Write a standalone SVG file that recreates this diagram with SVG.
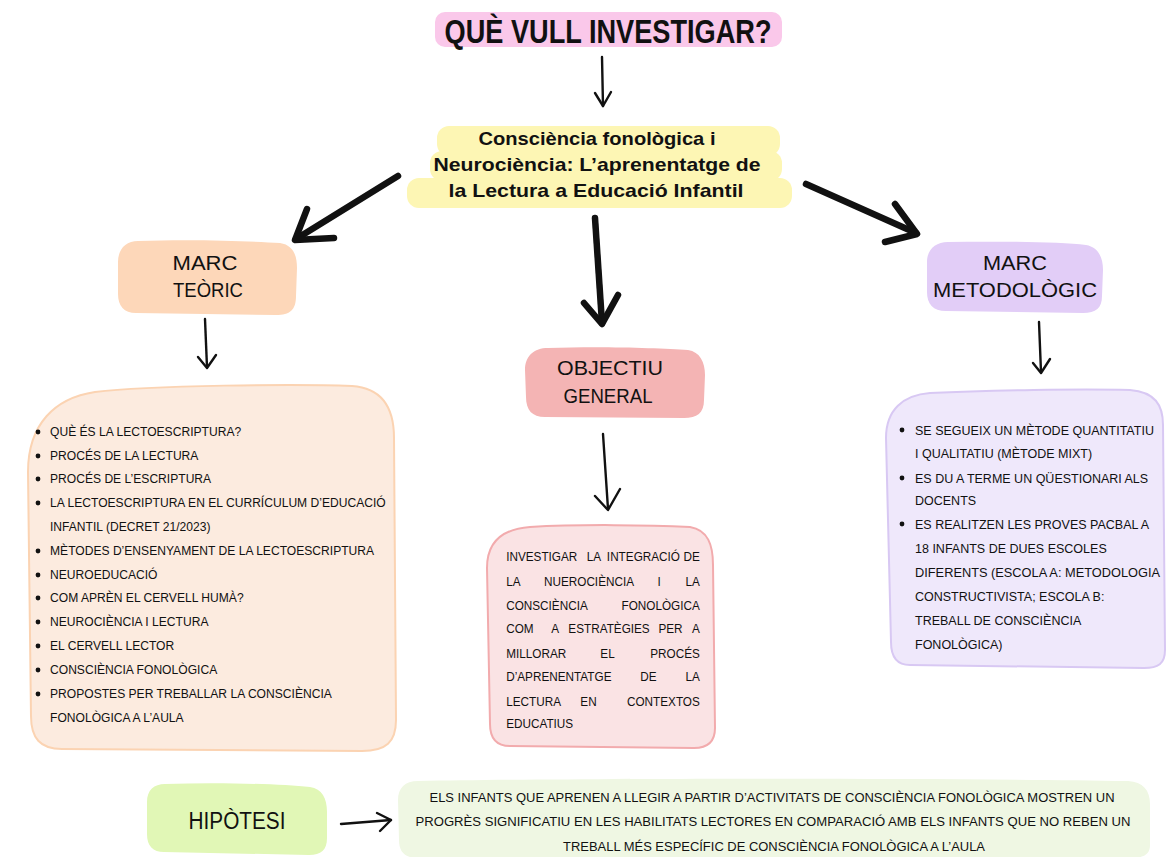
<svg xmlns="http://www.w3.org/2000/svg" width="1166" height="857" viewBox="0 0 1166 857">
  <style>
    .hand { font-family: "Liberation Sans", "DejaVu Sans", sans-serif; fill: #111; }
    .label { font-size: 21px; }
    .item { font-size: 12.5px; }
    .item-lg { font-size: 13px; }
    .hyp { font-size: 12.5px; }
    .topic { font-family: "Liberation Sans", "DejaVu Sans", sans-serif; font-weight: bold; font-size: 19px; fill: #111; }
    .thin { fill: none; stroke: #111; stroke-width: 2.4; stroke-linecap: round; stroke-linejoin: round; }
    .thick { fill: none; stroke: #111; stroke-width: 6.5; stroke-linecap: round; stroke-linejoin: round; }
    .bullet { fill: #111; }
  </style>

  <rect width="1166" height="857" fill="#ffffff"/>

  <!-- Title -->
  <g id="title">
    <rect x="435" y="12" width="347" height="35" rx="10" fill="#FAC8EA"/>
    <text class="hand" x="608" y="43" text-anchor="middle" font-size="33" font-weight="bold" textLength="327" lengthAdjust="spacingAndGlyphs">QUÈ VULL INVESTIGAR?</text>
  </g>

  <!-- Topic with marker highlight -->
  <g id="topic">
    <g fill="#FDF6B4">
      <rect x="437" y="126" width="343" height="30" rx="12"/>
      <rect x="430" y="151" width="352" height="30" rx="12"/>
      <rect x="407" y="178" width="385" height="30" rx="12"/>
    </g>
    <text class="topic" x="597" y="145" text-anchor="middle" textLength="237" lengthAdjust="spacingAndGlyphs">Consciència fonològica i</text>
    <text class="topic" x="597" y="171" text-anchor="middle" textLength="327" lengthAdjust="spacingAndGlyphs">Neurociència: L’aprenentatge de</text>
    <text class="topic" x="596" y="197" text-anchor="middle" textLength="295" lengthAdjust="spacingAndGlyphs">la Lectura a Educació Infantil</text>
  </g>

  <!-- Marc teòric -->
  <g id="marc-teoric">
    <path d="M138,241 C190,239 250,241 280,243 C293,245 297,255 297,268 L296,296 C296,310 290,315 276,315 L136,313 C124,313 118,306 118,294 L118,262 C118,249 126,241 138,241 Z" fill="#FDD7B9"/>
    <text class="hand label" x="205" y="270" text-anchor="middle" textLength="65" lengthAdjust="spacingAndGlyphs">MARC</text>
    <text class="hand label" x="208" y="297" text-anchor="middle" textLength="70" lengthAdjust="spacingAndGlyphs">TEÒRIC</text>
  </g>

  <g id="marc-teoric-list">
    <path d="M95,392 C150,385 300,384 352,386 C382,388 394,408 394,438 L396,720 C396,742 386,751 362,751 L62,749 C40,749 31,738 31,716 L28,472 C28,424 55,398 95,392 Z" fill="#FCEBDF" stroke="#FBD3B2" stroke-width="2"/>
    <g class="bullet">
      <circle cx="38" cy="432" r="2.4"/>
      <circle cx="38" cy="456" r="2.4"/>
      <circle cx="38" cy="479" r="2.4"/>
      <circle cx="38" cy="503" r="2.4"/>
      <circle cx="38" cy="551" r="2.4"/>
      <circle cx="38" cy="575" r="2.4"/>
      <circle cx="38" cy="598" r="2.4"/>
      <circle cx="38" cy="622" r="2.4"/>
      <circle cx="38" cy="646" r="2.4"/>
      <circle cx="38" cy="670" r="2.4"/>
      <circle cx="38" cy="694" r="2.4"/>
    </g>
    <g class="hand item-lg" transform="translate(50 0) scale(0.93 1)">
      <text x="0" y="436.5">QUÈ ÉS LA LECTOESCRIPTURA?</text>
      <text x="0" y="460.5">PROCÉS DE LA LECTURA</text>
      <text x="0" y="483.5">PROCÉS DE L’ESCRIPTURA</text>
      <text x="0" y="507.5">LA LECTOESCRIPTURA EN EL CURRÍCULUM D’EDUCACIÓ</text>
      <text x="0" y="531.5">INFANTIL (DECRET 21/2023)</text>
      <text x="0" y="555.5">MÈTODES D’ENSENYAMENT DE LA LECTOESCRIPTURA</text>
      <text x="0" y="579.5">NEUROEDUCACIÓ</text>
      <text x="0" y="602.5">COM APRÈN EL CERVELL HUMÀ?</text>
      <text x="0" y="626.5">NEUROCIÈNCIA I LECTURA</text>
      <text x="0" y="650.5">EL CERVELL LECTOR</text>
      <text x="0" y="674.5">CONSCIÈNCIA FONOLÒGICA</text>
      <text x="0" y="698.5">PROPOSTES PER TREBALLAR LA CONSCIÈNCIA</text>
      <text x="0" y="722.5">FONOLÒGICA A L’AULA</text>
    </g>
  </g>

  <!-- Objectiu general -->
  <g id="objectiu-general">
    <path d="M548,348 C600,346 660,348 688,350 C700,352 705,362 705,375 L704,400 C704,413 697,418 684,418 L545,417 C532,417 526,410 526,397 L525,370 C525,356 534,348 548,348 Z" fill="#F4B4B4"/>
    <text class="hand label" x="610" y="375" text-anchor="middle" textLength="106" lengthAdjust="spacingAndGlyphs">OBJECTIU</text>
    <text class="hand label" x="608" y="403" text-anchor="middle" textLength="89" lengthAdjust="spacingAndGlyphs">GENERAL</text>
  </g>

  <g id="objectiu-text">
    <path d="M530,527 C580,524 650,525 690,527 C708,530 713,545 713,565 L715,728 C715,742 708,748 694,748 L510,746 C496,746 490,738 490,724 L487,568 C487,542 503,529 530,527 Z" fill="#FAE3E4" stroke="#F2ABAD" stroke-width="2"/>
    <!-- justified paragraph: words placed on a 0.94 horizontal scale around x=603 -->
    <g class="hand item" transform="translate(603 0) scale(0.94 1)">
      <text x="-103" y="561">INVESTIGAR</text>
      <text x="-9.6" y="561" text-anchor="middle">LA</text>
      <text x="43" y="561" text-anchor="middle">INTEGRACIÓ</text>
      <text x="103" y="561" text-anchor="end">DE</text>

      <text x="-103" y="586">LA</text>
      <text x="-14.9" y="586" text-anchor="middle">NUEROCIÈNCIA</text>
      <text x="59.6" y="586" text-anchor="middle">I</text>
      <text x="103" y="586" text-anchor="end">LA</text>

      <text x="-103" y="610">CONSCIÈNCIA</text>
      <text x="103" y="610" text-anchor="end">FONOLÒGICA</text>

      <text x="-103" y="633">COM</text>
      <text x="-51" y="633" text-anchor="middle">A</text>
      <text x="6.4" y="633" text-anchor="middle">ESTRATÈGIES</text>
      <text x="71.8" y="633" text-anchor="middle">PER</text>
      <text x="103" y="633" text-anchor="end">A</text>

      <text x="-103" y="658">MILLORAR</text>
      <text x="4.8" y="658" text-anchor="middle">EL</text>
      <text x="103" y="658" text-anchor="end">PROCÉS</text>

      <text x="-103" y="681">D’APRENENTATGE</text>
      <text x="48.4" y="681" text-anchor="middle">DE</text>
      <text x="103" y="681" text-anchor="end">LA</text>

      <text x="-103" y="706">LECTURA</text>
      <text x="-15.4" y="706" text-anchor="middle">EN</text>
      <text x="103" y="706" text-anchor="end">CONTEXTOS</text>

      <text x="-103" y="728">EDUCATIUS</text>
    </g>
  </g>

  <!-- Marc metodològic -->
  <g id="marc-metodologic">
    <path d="M948,242 C1000,241 1060,242 1086,245 C1098,247 1103,257 1103,270 L1102,296 C1102,308 1096,313 1083,313 L946,311 C933,311 927,304 927,292 L927,262 C927,250 935,242 948,242 Z" fill="#E2CDF7"/>
    <text class="hand label" x="1015" y="270" text-anchor="middle" textLength="64" lengthAdjust="spacingAndGlyphs">MARC</text>
    <text class="hand label" x="1015" y="297" text-anchor="middle" textLength="164" lengthAdjust="spacingAndGlyphs">METODOLÒGIC</text>
  </g>

  <g id="marc-metodologic-list">
    <path d="M930,393 C990,390 1080,389 1130,390 C1155,392 1163,405 1163,425 L1165,650 C1165,664 1158,668 1144,668 L910,665 C896,665 891,656 891,642 L886,438 C886,410 903,395 930,393 Z" fill="#EFE8FB" stroke="#D8C8F3" stroke-width="2"/>
    <g class="bullet">
      <circle cx="902" cy="430" r="2.4"/>
      <circle cx="902" cy="478" r="2.4"/>
      <circle cx="902" cy="524" r="2.4"/>
    </g>
    <g class="hand item">
      <text x="915" y="434.5">SE SEGUEIX UN MÈTODE QUANTITATIU</text>
      <text x="915" y="458">I QUALITATIU (MÈTODE MIXT)</text>
      <text x="915" y="482.5">ES DU A TERME UN QÜESTIONARI ALS</text>
      <text x="915" y="505">DOCENTS</text>
      <text x="915" y="528.5">ES REALITZEN LES PROVES PACBAL A</text>
      <text x="915" y="552.5">18 INFANTS DE DUES ESCOLES</text>
      <text x="915" y="576.5" textLength="245" lengthAdjust="spacingAndGlyphs">DIFERENTS (ESCOLA A: METODOLOGIA</text>
      <text x="915" y="600.5">CONSTRUCTIVISTA; ESCOLA B:</text>
      <text x="915" y="624.5">TREBALL DE CONSCIÈNCIA</text>
      <text x="915" y="648.5">FONOLÒGICA)</text>
    </g>
  </g>

  <!-- Hipòtesi -->
  <g id="hipotesi">
    <path d="M165,784 C220,782 280,784 310,787 C322,789 327,798 327,812 L327,838 C327,850 321,855 309,855 L164,852 C153,852 147,846 147,834 L147,802 C147,790 154,784 165,784 Z" fill="#E1F7B6"/>
    <text class="hand" x="237" y="829" text-anchor="middle" font-size="23" textLength="97" lengthAdjust="spacingAndGlyphs">HIPÒTESI</text>
  </g>

  <g id="hipotesi-text">
    <path d="M418,781 C600,778 950,778 1128,781 C1143,782 1150,790 1150,804 L1150,845 C1150,855 1143,858 1130,858 L418,858 C405,858 399,852 399,840 L398,800 C398,788 405,781 418,781 Z" fill="#EFF7E3"/>
    <g class="hand hyp">
      <text x="772" y="801.5" text-anchor="middle" textLength="685" lengthAdjust="spacingAndGlyphs">ELS INFANTS QUE APRENEN A LLEGIR A PARTIR D’ACTIVITATS DE CONSCIÈNCIA FONOLÒGICA MOSTREN UN</text>
      <text x="773" y="826" text-anchor="middle" textLength="715" lengthAdjust="spacingAndGlyphs">PROGRÈS SIGNIFICATIU EN LES HABILITATS LECTORES EN COMPARACIÓ AMB ELS INFANTS QUE NO REBEN UN</text>
      <text x="774" y="850.5" text-anchor="middle" textLength="422" lengthAdjust="spacingAndGlyphs">TREBALL MÉS ESPECÍFIC DE CONSCIÈNCIA FONOLÒGICA A L’AULA</text>
    </g>
  </g>

  <!-- Connectors -->
  <g id="connectors">
    <!-- title to topic -->
    <path class="thin" d="M602,57 L603,106"/>
    <path class="thin" d="M595,93 L603,106 L611,92"/>
    <!-- topic to marc teòric -->
    <path class="thick" d="M398,176 L296,239"/>
    <path class="thick" d="M307,209 L295,240 L334,238"/>
    <!-- topic to objectiu general -->
    <path class="thick" d="M595,218 L602,323"/>
    <path class="thick" d="M584,303 L602,324 L618,295"/>
    <!-- topic to marc metodològic -->
    <path class="thick" d="M806,184 L916,233"/>
    <path class="thick" d="M895,204 L917,234 L885,242"/>
    <!-- marc teòric to list -->
    <path class="thin" d="M205,319 L207,367"/>
    <path class="thin" d="M198,357 L207,368 L216,355"/>
    <!-- objectiu general to text -->
    <path class="thin" d="M603,434 L608,509"/>
    <path class="thin" d="M595,496 L608,510 L620,489"/>
    <!-- marc metodològic to list -->
    <path class="thin" d="M1039,322 L1041,372"/>
    <path class="thin" d="M1033,363 L1041,373 L1050,359"/>
    <!-- hipòtesi to statement -->
    <path class="thin" d="M341,824 L391,820"/>
    <path class="thin" d="M377,813 L391,820 L380,831"/>
  </g>
</svg>
